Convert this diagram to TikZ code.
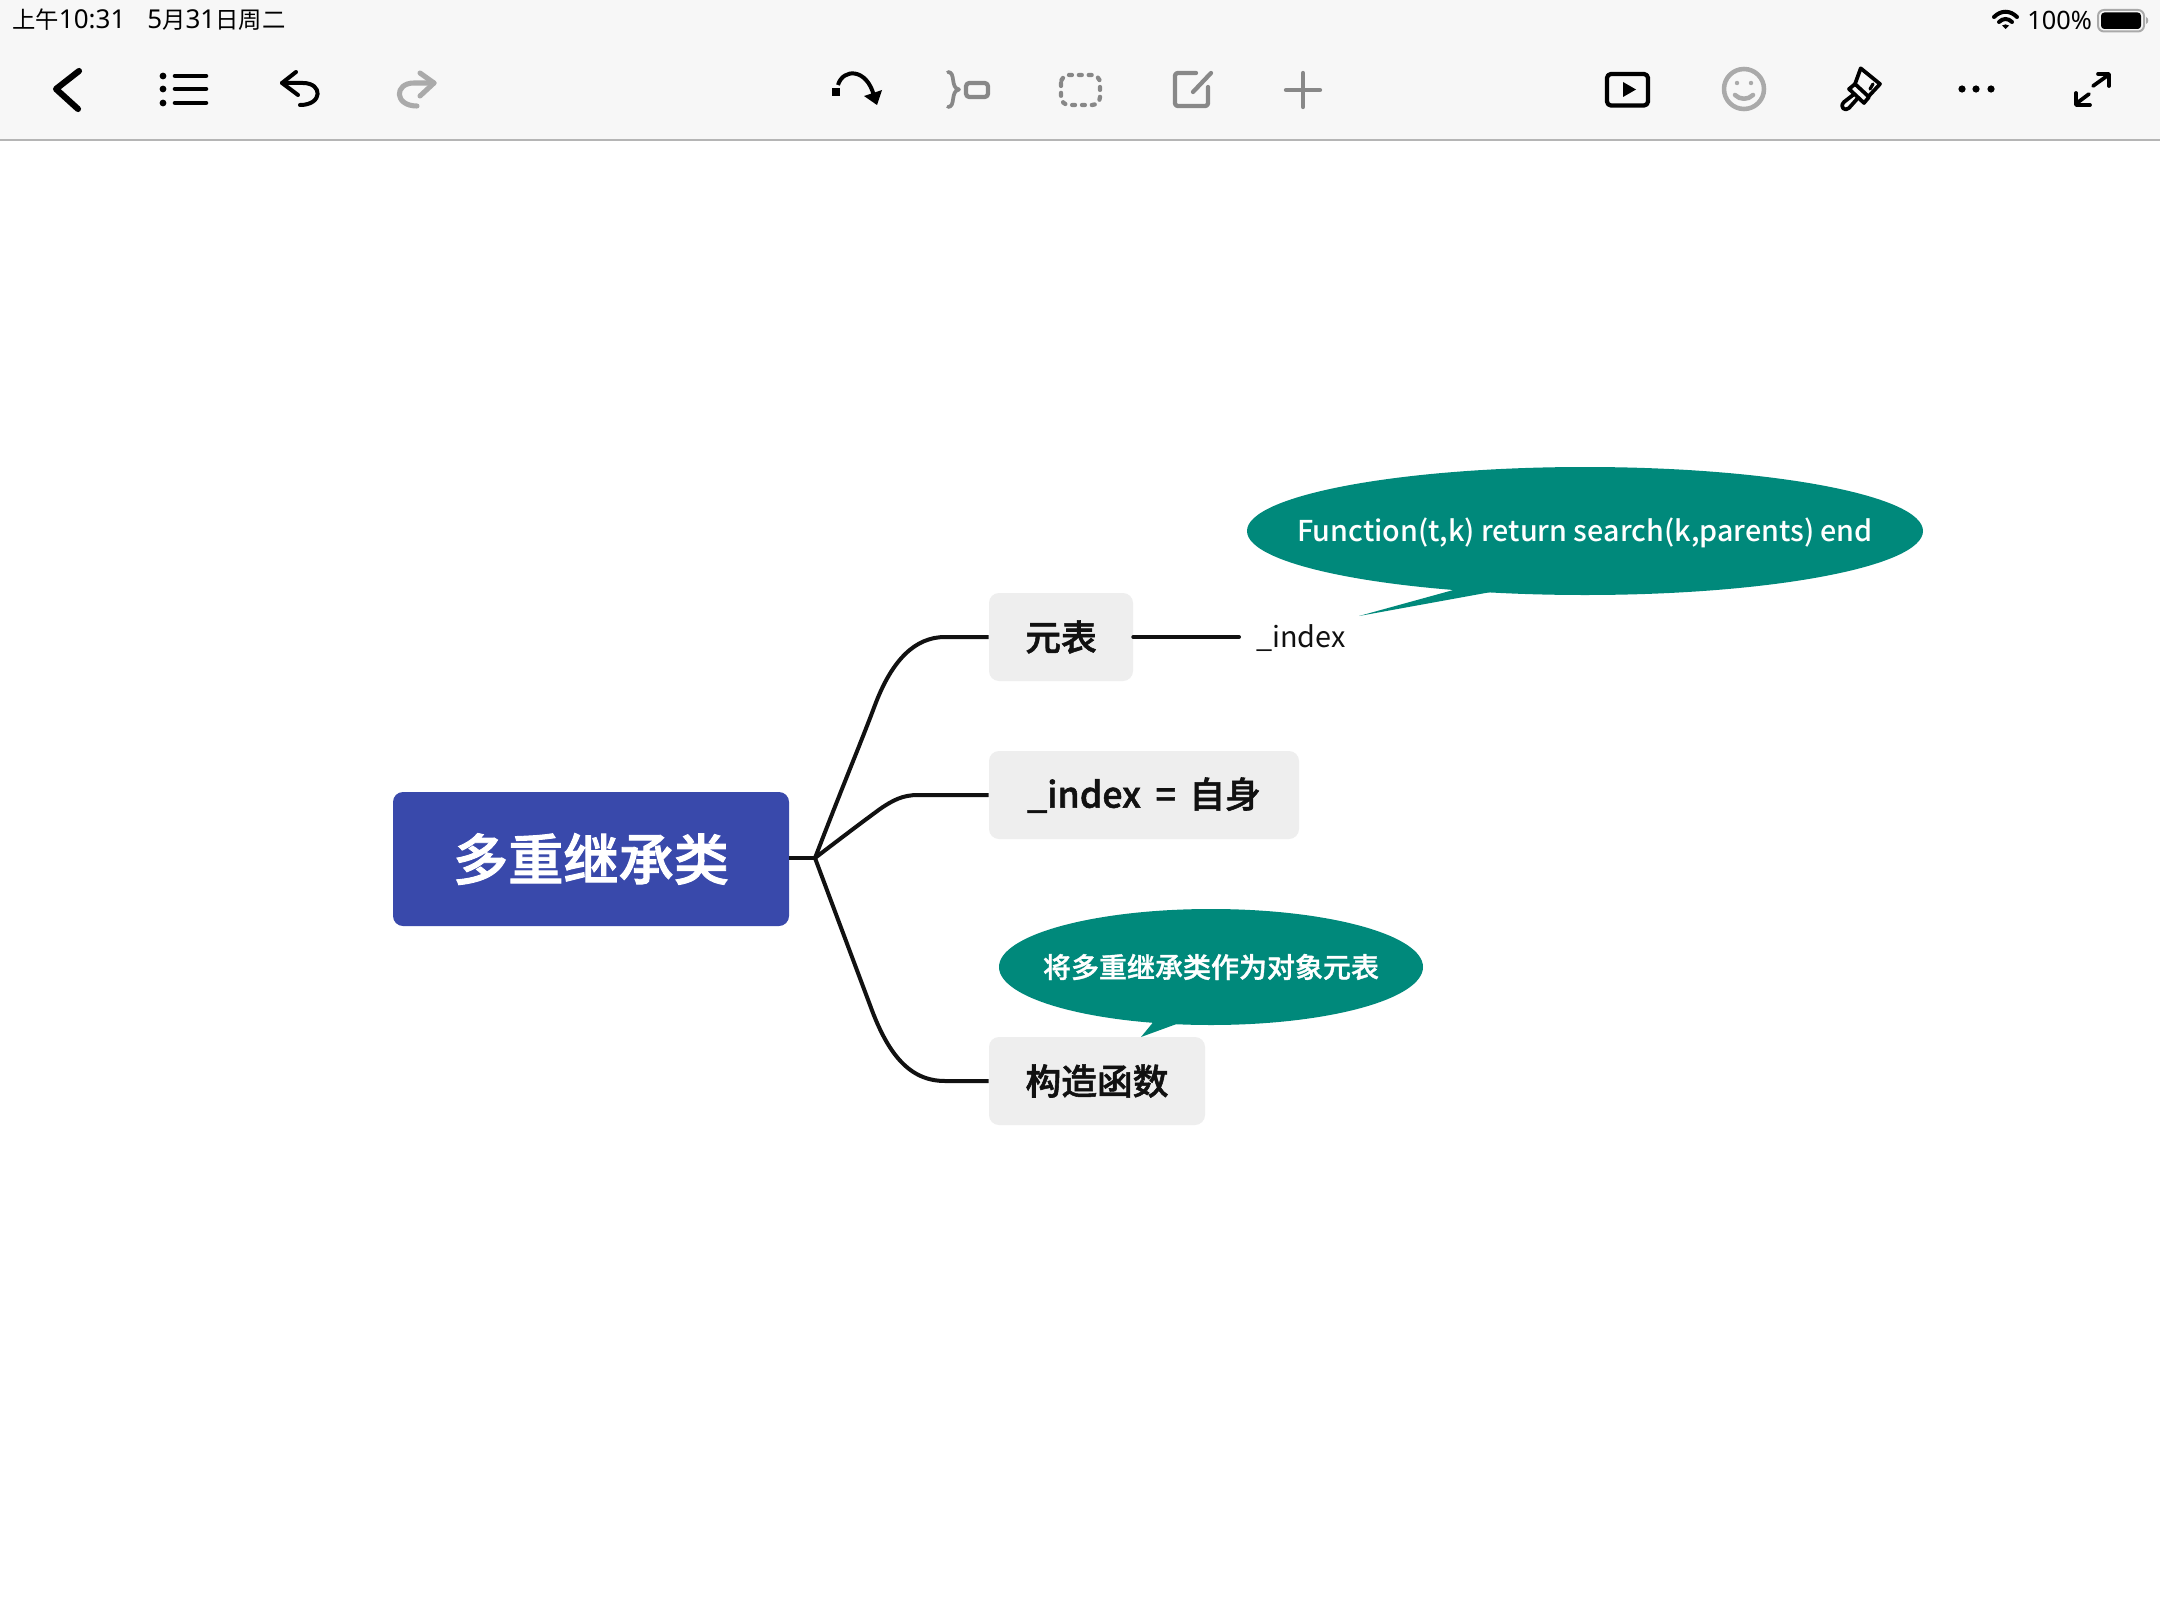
\documentclass[tikz,border=0pt]{standalone}
\usepackage{fontspec}
\setmainfont{Noto Sans CJK SC}
\newfontfamily\latinfont{Noto Sans}
\newfontfamily\medfont{Noto Sans CJK SC Medium}
\newcommand{\statnum}[1]{{\fontsize{19.5pt}{19.5pt}\latinfont #1}}
\newcommand{\heavier}[2]{\special{pdf:code 2 Tr #1 w}#2\special{pdf:code 0 Tr}}
\definecolor{barbg}{HTML}{F7F7F7}
\definecolor{barline}{HTML}{B5B5B5}
\definecolor{rootblue}{HTML}{3949AB}
\definecolor{boxgrey}{HTML}{EEEEEE}
\definecolor{calloutgreen}{HTML}{00897B}
\definecolor{inkblack}{HTML}{111111}
\definecolor{icongrey}{HTML}{888888}
\definecolor{iconlight}{HTML}{AAAAAA}
\usetikzlibrary{shapes.geometric}
\tikzset{
   rootbox/.style={fill=rootblue,rounded corners=7.5pt,text=white,minimum width=297pt,minimum height=100.5pt,inner sep=0pt,font=\fontsize{41.4pt}{42pt}\medfont},
   topicbox/.style={fill=boxgrey,rounded corners=7.5pt,text=inkblack,minimum height=66pt,inner sep=0pt,font=\fontsize{26.8pt}{28pt}\medfont},
   callout/.style={ellipse,fill=calloutgreen,text=white,inner sep=0pt},
   branch/.style={draw=inkblack,line width=3pt},
   iconblack/.style={draw=black,line width=3.2pt,line cap=round,line join=round},
   icongray/.style={draw=icongrey,line width=3.2pt,line cap=round,line join=round},
   iconpale/.style={draw=iconlight,line width=3.4pt,line cap=round,line join=round}
}
\begin{document}
\begin{tikzpicture}[x=0.75pt,y=-0.75pt]
\useasboundingbox (0,0) rectangle (2160,1620);
\fill[white] (0,0) rectangle (2160,1620);
\fill[barbg] (0,0) rectangle (2160,139);
\draw[barline,line width=1.5pt] (0,140) -- (2160,140);
% status bar
\node[anchor=west,inner sep=0pt,font=\fontsize{17.5pt}{18pt}\selectfont] (clock) at (12,20) {上午\statnum{10:31}\hspace{16.5pt}\statnum{5}月\statnum{31}日周二};
\node[anchor=west,inner sep=0pt,font=\fontsize{19pt}{19pt}\latinfont] (battext) at (2027,20) {100\%};
\draw[line width=3pt,line cap=round] (1994,17) .. controls (2001,10) and (2010,10) .. (2017,17);
\draw[line width=3pt,line cap=round] (1999,22) .. controls (2003,18) and (2008,18) .. (2012,22);
\fill (2005.5,29) -- (2002,25.5) .. controls (2004,24) and (2007,24) .. (2009,25.5) -- cycle;
\draw[iconlight,line width=1.5pt,rounded corners=4.5pt] (2098,10) rectangle (2144,31.5);
\fill[black,rounded corners=2.5pt] (2101,12.5) rectangle (2141,29);
\fill[iconlight] (2146,17) .. controls (2149,18) and (2149,23) .. (2146,24) -- cycle;
% left tools
\draw[iconblack,line width=4.6pt] (79,71) -- (56,89) -- (78,109);
\foreach \rowy in {76,89,103} {
   \fill (163,\rowy) circle (3.4);
   \draw[iconblack,line width=3.4pt] (175,\rowy) -- (206,\rowy);
}
\draw[iconblack,line width=3pt] (296,72) -- (282,83) -- (298,95);
\draw[iconblack,line width=3pt] (282,83) -- (303,83) .. controls (323,83) and (323,105) .. (300,105);
\draw[iconpale,line width=3.8pt] (420,73) -- (434,83) -- (420,96);
\draw[iconpale,line width=3.8pt] (434,83) -- (414,83) .. controls (394,83) and (394,106) .. (417,106);
% middle tools
\fill (832,88) rectangle (840,96);
\draw[black,line width=3pt] (838,85) .. controls (843,68) and (867,68) .. (874,96);
\fill (864,96) -- (882,90) -- (877,105) -- cycle;
\draw[icongray,line width=2.8pt] (948,72) .. controls (956,72) and (950,88) .. (959,89.5) .. controls (950,91) and (956,107) .. (948,107);
\draw[icongray,rounded corners=2.5pt] (966,83) rectangle (988,97);
\draw[icongray,dash pattern=on 2.2pt off 5.2pt,rounded corners=6pt] (1061,75) rectangle (1100,105);
\draw[icongray,rounded corners=2pt] (1196,73) -- (1175,73) -- (1175,106) -- (1208,106) -- (1208,87);
\draw[icongray] (1211,73) -- (1193,92);
\draw[icongray] (1286,90) -- (1320,90);
\draw[icongray] (1303,73) -- (1303,107);
% right tools
\draw[iconblack,rounded corners=3pt] (1607,74) rectangle (1648,105.5);
\fill (1623,82) -- (1636,89.5) -- (1623,97) -- cycle;
\draw[iconpale] (1744,89) ellipse (20 and 20);
\fill[iconlight] (1737,83) circle (2.2);
\fill[iconlight] (1751,83) circle (2.2);
\draw[iconpale] (1735,95) .. controls (1740,100) and (1748,100) .. (1753,95);
\draw[iconblack,line width=2.8pt] (1855,84) -- (1860.7,68.3) -- (1880,84) -- (1868,97);
\draw[iconblack,line width=2.8pt] (1849,89) -- (1855,84) -- (1869,97) -- (1864,103) -- cycle;
\draw[iconblack,line width=2.8pt] (1853,95) -- (1844,102) .. controls (1839,107) and (1845,112) .. (1849,108) -- (1857,99);
\draw[iconblack,line width=2.4pt] (1873,84) -- (1870,89);
\foreach \dotx in {1962,1976,1991} {
   \fill (\dotx,89) circle (3.6);
}
\draw[iconblack,line width=2.8pt] (2093,86) -- (2107,76);
\draw[iconblack,line width=2.8pt] (2098,74) -- (2109,74) -- (2109,86);
\draw[iconblack,line width=2.8pt] (2077,103) -- (2089,94);
\draw[iconblack,line width=2.8pt] (2076,93) -- (2076,105) -- (2090,105);
% map
\node[rootbox] (root) at (591,859) {\heavier{0.7}{多重继承类}};
\node[topicbox,minimum width=108pt] (meta) at (1061,637) {\heavier{0.4}{元表}};
\node[topicbox,minimum width=232.5pt] (indexself) at (1144,795) {\raisebox{-9.5pt}[0pt][0pt]{\heavier{0.4}{\_index\hspace{5pt} = \hspace{4pt}自身}}};
\node[topicbox,minimum width=162pt] (ctor) at (1097,1081) {\heavier{0.4}{构造函数}};
\node[text=inkblack,inner sep=0pt,font=\fontsize{21.6pt}{22pt}\selectfont] (indexleaf) at (1301,638) {\_index};
\coordinate (hub) at (815,858);
\coordinate (leafend) at (1239,637);
\draw[branch] (root.east |- hub) -- (hub);
\draw[branch] (hub) .. controls (845,780) and (860,745) .. (875,705) .. controls (892,660) and (915,637) .. (945,637) -- (meta.west);
\draw[branch] (hub) .. controls (845,835) and (865,820) .. (880,809) .. controls (893,800) and (903,795) .. (918,795) -- (indexself.west);
\draw[branch] (hub) .. controls (840,925) and (855,965) .. (870,1005) .. controls (888,1055) and (910,1081) .. (945,1081) -- (ctor.west);
\draw[branch,line cap=round] (meta.east) -- (leafend);
% callouts
\fill[calloutgreen] (1457,589) -- (1359,616) -- (1491,592) -- cycle;
\node[callout,minimum width=507pt,minimum height=96pt,font=\fontsize{21.5pt}{22pt}\medfont] (searchnote) at (1585,531) {\makebox[0pt]{\raisebox{-7.5pt}[0pt][0pt]{Function(t,k) return search(k,parents) end}}};
\fill[calloutgreen] (1155,1020) -- (1141,1037) -- (1182,1022) -- cycle;
\node[callout,minimum width=318pt,minimum height=87pt,font=\fontsize{21pt}{22pt}\medfont] (classnote) at (1211,967) {\makebox[0pt]{\heavier{0.25}{将多重继承类作为对象元表}}};
\end{tikzpicture}
\end{document}
